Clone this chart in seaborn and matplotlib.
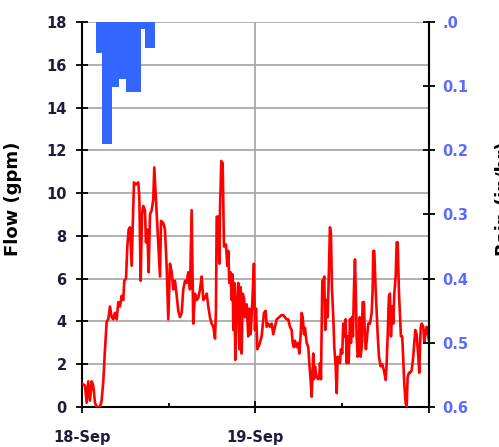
import numpy as np
import pandas as pd
import matplotlib
matplotlib.use("Agg")
import matplotlib.pyplot as plt
import seaborn as sns
from matplotlib.ticker import MultipleLocator, FixedLocator

# Flow record, hours since 18-Sep 00:00
hours = [0.00, 0.41, 0.65, 0.87, 1.11, 1.34, 1.56, 1.80, 2.03, 2.49, 2.72, 2.95,
         3.18, 3.42, 3.64, 3.87, 4.11, 4.33, 4.56, 4.80, 5.02, 5.26, 5.49, 5.71,
         5.85, 6.09, 6.27, 6.46, 6.64, 6.87, 7.01, 7.19, 7.47, 7.79, 7.93, 8.12,
         8.30, 8.48, 8.71, 8.85, 9.03, 9.22, 9.41, 9.64, 9.86, 10.00, 10.33, 10.79,
         10.93, 11.25, 11.48, 11.71, 11.94, 12.17, 12.41, 12.63, 12.86, 13.10, 13.32, 13.55,
         13.79, 14.01, 14.25, 14.48, 14.70, 14.94, 15.17, 15.39, 15.63, 15.86, 16.09, 16.32,
         16.56, 16.78, 17.01, 17.25, 17.47, 17.70, 17.94, 18.16, 18.40, 18.53, 18.63, 18.85,
         18.99, 19.09, 19.27, 19.46, 19.64, 19.92, 20.10, 20.24, 20.38, 20.56, 20.70, 20.84,
         20.93, 21.07, 21.21, 21.40, 21.62, 21.76, 21.95, 22.09, 22.23, 22.41, 22.55, 22.78,
         23.00, 23.14, 23.33, 23.56, 23.79, 23.93, 24.07, 24.25, 24.52, 24.85, 25.17, 25.41,
         25.55, 25.77, 26.00, 26.24, 26.46, 26.69, 26.93, 27.29, 27.62, 27.84, 28.08, 28.31,
         28.53, 28.77, 29.00, 29.14, 29.32, 29.46, 29.70, 29.92, 30.06, 30.25, 30.39, 30.53,
         30.71, 30.84, 31.08, 31.30, 31.44, 31.63, 31.77, 31.99, 32.09, 32.23, 32.46, 32.68,
         32.82, 32.92, 33.06, 33.24, 33.37, 33.51, 33.65, 33.84, 33.98, 34.12, 34.30, 34.44,
         34.58, 34.76, 34.90, 35.09, 35.23, 35.37, 35.55, 35.68, 35.82, 36.00, 36.14, 36.28,
         36.47, 36.61, 36.75, 36.89, 37.07, 37.21, 37.34, 37.48, 37.62, 37.76, 37.90, 37.99,
         38.13, 38.27, 38.41, 38.55, 38.69, 38.82, 39.00, 39.14, 39.28, 39.46, 39.60, 39.83,
         40.07, 40.21, 40.29, 40.43, 40.62, 40.76, 40.90, 41.08, 41.31, 41.54, 41.77, 42.01,
         42.14, 42.28, 42.46, 42.60, 42.74, 42.92, 43.06, 43.20, 43.39, 43.53, 43.67, 43.85,
         43.98, 44.12, 44.30, 44.44, 44.58, 44.77, 44.91, 45.05, 45.23, 45.37, 45.60, 45.82,
         45.96, 46.10, 46.29, 46.52, 46.65, 46.85, 46.99, 47.21, 47.35, 47.49, 47.68, 47.90,
         48.00]
flow_gpm = [1.1, 1.0, 0.2, 1.2, 0.3, 1.2, 1.0, 0.2, 0.0, 0.0, 0.3, 1.2,
            2.7, 4.0, 4.1, 4.7, 4.2, 4.1, 4.4, 4.1, 4.9, 4.7, 5.2, 5.0,
            5.9, 6.0, 7.5, 8.3, 8.4, 6.6, 8.3, 10.5, 10.4, 10.5, 9.8, 5.9,
            9.0, 9.4, 9.2, 7.7, 8.3, 6.3, 9.0, 9.2, 9.7, 11.2, 9.1, 6.1,
            8.7, 8.6, 8.3, 6.6, 4.1, 6.7, 6.3, 5.5, 5.9, 5.2, 4.5, 4.2,
            4.4, 5.5, 5.9, 5.8, 6.3, 5.5, 9.2, 3.9, 5.3, 5.0, 5.1, 5.5,
            6.1, 5.0, 5.1, 5.3, 4.7, 4.2, 3.9, 3.75, 3.2, 4.5, 8.9, 8.9,
            6.7, 9.2, 11.5, 11.4, 7.5, 7.6, 6.6, 7.3, 5.8, 6.3, 5.0, 6.2,
            3.6, 5.8, 2.2, 4.7, 5.8, 2.7, 5.6, 2.5, 5.3, 5.1, 4.2, 4.8,
            3.3, 4.6, 3.4, 4.9, 6.7, 3.6, 4.6, 2.7, 2.9, 3.3, 4.4, 4.5,
            3.75, 3.9, 3.75, 3.9, 3.4, 3.75, 4.1, 4.2, 4.3, 4.3, 4.2, 4.1,
            4.1, 3.75, 3.6, 3.0, 2.8, 3.1, 2.8, 3.0, 2.5, 3.4, 4.4, 4.2,
            3.4, 3.7, 3.0, 2.8, 2.05, 1.26, 0.48, 2.5, 1.3, 1.9, 1.4, 1.3,
            1.4, 2.05, 1.3, 5.9, 5.8, 6.1, 3.6, 5.0, 4.2, 5.9, 8.4, 8.1,
            5.5, 4.2, 2.8, 1.9, 0.65, 2.35, 2.2, 2.05, 2.7, 2.5, 3.9, 3.3,
            4.1, 2.05, 3.3, 2.05, 4.1, 3.0, 4.2, 3.3, 5.5, 6.9, 5.0, 3.3,
            2.35, 2.5, 4.2, 2.35, 2.8, 4.9, 4.9, 3.1, 2.7, 3.4, 3.9, 3.9,
            4.4, 5.5, 7.3, 7.3, 5.5, 4.4, 3.4, 2.35, 1.9, 2.0, 1.7, 1.26,
            2.0, 3.3, 5.2, 5.3, 3.3, 4.7, 3.9, 5.3, 6.1, 7.7, 7.7, 5.3,
            4.3, 3.3, 3.3, 2.2, 1.1, 0.2, 0.0, 1.4, 1.6, 1.6, 1.7, 2.35,
            3.0, 3.6, 3.4, 2.35, 1.6, 3.7, 3.9, 3.75, 3.0, 3.4, 3.75, 3.3,
            3.1]

# Rainfall intensity blocks (start hour, end hour, in/hr)
rain_start = [1.89, 2.72, 4.11, 5.16, 6.04, 8.16, 8.76]
rain_end = [2.72, 4.11, 5.16, 6.04, 8.16, 8.76, 10.14]
rain_rate = [0.048, 0.190, 0.101, 0.089, 0.109, 0.011, 0.041]

day_ticks = [0, 24, 48]
day_labels = ["18-Sep", "19-Sep", ""]
half_day_ticks = [12, 36]
flow_ticks = [0, 2, 4, 6, 8, 10, 12, 14, 16, 18]
rain_ticks = [0.0, 0.1, 0.2, 0.3, 0.4, 0.5, 0.6]
rain_tick_labels = [".0", "0.1", "0.2", "0.3", "0.4", "0.5", "0.6"]

sns.set_style("white")
plt.rcParams["font.family"] = ["DejaVu Sans"]
plt.rcParams["font.weight"] = "bold"

fig = plt.figure(figsize=(4.99, 4.47), dpi=100)
ax = fig.add_axes([0.1643, 0.0895, 0.6954, 0.8613])

df = pd.DataFrame({"hours": hours, "flow": flow_gpm})
sns.lineplot(data=df, x="hours", y="flow", color="#ff0000", linewidth=1.9,
             ax=ax, zorder=3)

ax.set_xlim(day_ticks[0], day_ticks[-1])
ax.set_ylim(flow_ticks[0], flow_ticks[-1])
ax.set_yticks(flow_ticks)
ax.set_xticks(day_ticks)
ax.set_xticklabels(day_labels)
ax.xaxis.set_minor_locator(FixedLocator(half_day_ticks))
ax.grid(True, which="major", color="#a3a3a3", linewidth=1.2)
ax.set_axisbelow(True)

for side in ["left", "bottom", "right"]:
    ax.spines[side].set_color("black")
    ax.spines[side].set_linewidth(1.5)
ax.spines["top"].set_visible(False)

label_dark = "#1d1d3a"
ax.tick_params(axis="y", direction="inout", length=9, width=1.3, color="black",
               labelsize=10.5, labelcolor=label_dark, pad=6.5, left=True)
ax.tick_params(axis="x", which="major", direction="inout", length=9, width=1.3,
               color="black", labelsize=10.5, labelcolor=label_dark, pad=12,
               bottom=True)
ax.tick_params(axis="x", which="minor", direction="in", length=3, width=1.3,
               color="black", bottom=True)
for lbl in ax.get_xticklabels() + ax.get_yticklabels():
    lbl.set_fontweight("bold")

ax.set_xlabel("")
ax.set_ylabel("Flow (gpm)", fontsize=13, fontweight="bold", color="black")
ax.yaxis.set_label_coords(-0.173, 0.54)

# Rainfall on an inverted secondary axis, hanging from the top
ax2 = ax.twinx()
widths = np.array(rain_end) - np.array(rain_start)
ax2.bar(rain_start, rain_rate, width=widths, align="edge", color="#3366ff",
        linewidth=0, zorder=2)
ax2.set_ylim(rain_ticks[-1], rain_ticks[0])
ax2.set_yticks(rain_ticks)
ax2.set_yticklabels(rain_tick_labels)
for side in ["left", "bottom", "top"]:
    ax2.spines[side].set_visible(False)
ax2.spines["right"].set_color("black")
ax2.spines["right"].set_linewidth(1.5)
ax2.tick_params(axis="y", direction="inout", length=9, width=1.3, color="black",
                labelsize=10.5, labelcolor="#5b6bff", pad=5, right=True)
for lbl in ax2.get_yticklabels():
    lbl.set_fontweight("bold")
ax2.set_ylabel("Rain (in/hr)", fontsize=13, fontweight="bold", color="black",
               rotation=90)
ax2.yaxis.set_label_coords(1.19, 0.54)
ax2.grid(False)

fig.savefig("out.png", dpi=100)
